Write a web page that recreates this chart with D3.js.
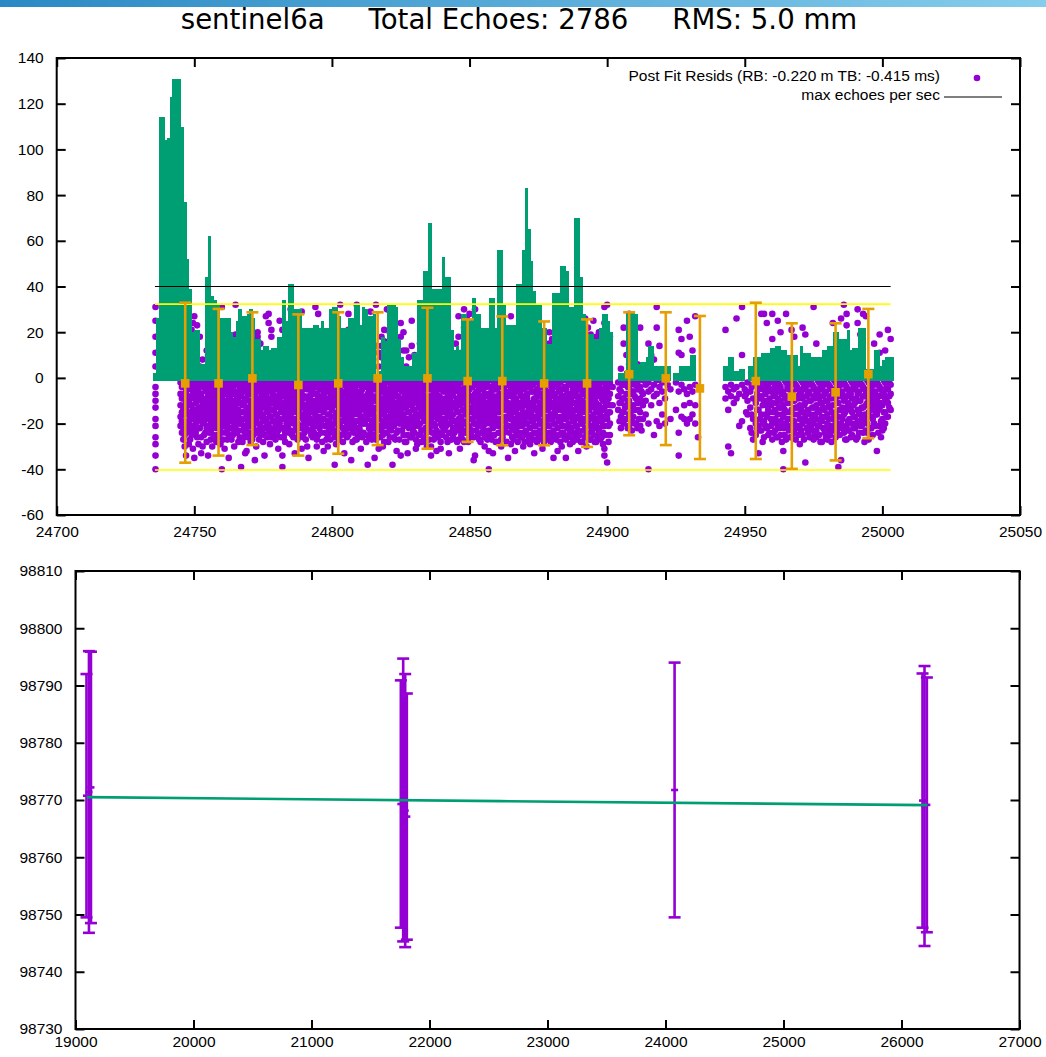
<!DOCTYPE html>
<html>
<head>
<meta charset="utf-8">
<script src="https://cdn.jsdelivr.net/npm/d3@7"></script>
<style>
  body { margin: 0; background: #fff; }
  svg text { font-family: "Liberation Sans", Arial, sans-serif; font-size: 15.5px; fill: #000; }
  svg text.title { font-family: "DejaVu Sans", sans-serif; font-size: 27.6px; white-space: pre; }
</style>
</head>
<body>
<svg id="chart" width="1046" height="1057"></svg>
<script>
// ---- text ----
const titleText = "sentinel6a     Total Echoes: 2786     RMS: 5.0 mm";
const legendResid = "Post Fit Resids (RB: -0.220 m TB: -0.415 ms)";
const legendMax = "max echoes per sec";

// ---- ticks ----
const topXTicks = [24700, 24750, 24800, 24850, 24900, 24950, 25000, 25050];
const topYTicks = [-60, -40, -20, 0, 20, 40, 60, 80, 100, 120, 140];
const botXTicks = [19000, 20000, 21000, 22000, 23000, 24000, 25000, 26000, 27000];
const botYTicks = [98730, 98740, 98750, 98760, 98770, 98780, 98790, 98800, 98810];

// ---- echoes per second (one bar per second from barStart) ----
const barStart = 24735;
const barCounts = [
  2, 26, 114, 114, 104, 105, 123, 131, 131, 131,
  110, 77, 52, 39, 20, 21, 21, 6, 6, 44,
  62, 36, 34, 32, 26, 26, 26, 26, 20, 18,
  25, 30, 27, 27, 28, 30, 26, 17, 17, 12,
  14, 14, 12, 13, 13, 18, 18, 34, 25, 41,
  41, 30, 30, 30, 22, 22, 22, 22, 23, 23,
  22, 25, 22, 22, 30, 31, 31, 27, 22, 22,
  22, 26, 26, 32, 32, 23, 31, 30, 27, 27,
  28, 1, 3, 18, 16, 32, 32, 32, 31, 17,
  9, 5, 5, 5, 11, 11, 34, 34, 47, 47,
  68, 39, 39, 39, 39, 53, 44, 44, 21, 12,
  14, 12, 28, 28, 25, 25, 35, 28, 28, 22,
  22, 22, 35, 35, 22, 56, 56, 32, 23, 23,
  23, 23, 41, 41, 56, 83, 65, 51, 38, 32,
  32, 22, 22, 15, 15, 37, 37, 37, 49, 49,
  47, 31, 31, 70, 70, 44, 28, 19, 19, 19,
  17, 17, 22, 28, 28, 25, 20, null, null, 2,
  2, 3, 28, 29, 29, 28, 6, 7, 7, 9,
  14, 14, 5, 5, 5, 5, 5, 5, null, 2,
  2, 5, 5, 5, 5, 10, 10, null, null, null,
  null, null, null, null, null, null, null, 5, 5, 9,
  9, 3, 3, 4, 4, null, 5, 5, 9, 9,
  9, 11, 11, 11, 13, 13, 14, 14, 12, 12,
  10, 10, 10, 10, 5, 14, 11, 11, 11, 9,
  9, 9, 9, 12, 12, 14, 14, 20, 20, 17,
  17, 17, 21, 12, 13, 13, 22, 22, 22, 4,
  4, 4, 12, 12, 5, 8, 9, 9, 9
];
const barBase = -1.2;

// ---- reference lines ----
const maxEchoes = 40;
const limitHi = 32.3;
const limitLo = -40.3;
const lineStart = 24735.7;
const lineEnd = 25003;

// ---- binned residual error bars ----
const ebTime = [24746.7, 24758.8, 24771.1, 24787.8, 24802.3, 24816.6, 24834.7, 24849.3, 24861.9,
                24877.1, 24892.7, 24908, 24921.3, 24933.7, 24954, 24967.1, 24983, 24994.9];
const ebMid = [-2.4, -2.4, -0.2, -3.1, -2.4, -0.2, -0.2, -1.4, -1.4, -2.4, -2.4, 1.6, -0.2, -4.6, -1.4, -8.2, -6.3, 1.6];
const ebLo = [-37.1, -34.0, -29.4, -34.0, -33.2, -29.4, -31, -28, -29.5, -29.5, -30.2, -25.1, -29.4, -35.5, -35.5, -39.8, -36.1, -26.4];
const ebHi = [32.9, 30.2, 28.7, 27.8, 28.7, 28.7, 30.7, 25.6, 26.9, 24.7, 25.6, 28.7, 28.7, 27.1, 32.9, 23.9, 23.9, 30.2];

// ---- post fit residuals: "second offset: values (mm)" ----
const residT0 = 24700;
const residCols = [
  "35.9: 31 25 18 11 5 -4 -7 -10 -13 -18 -21 -26 -29 -34 -40",
  "45: -2 -7 -12 -17 -21",
  "46: -1 -4 -9 -14 -16 -22 -27 24",
  "47: -3 -6 -11 -13 -19 -24 -34 28 22",
  "48: -2 -8 -10 -15 -20 -23 -29 25 18",
  "49: -1 -5 -12 -16 -18 -25 5 21",
  "50: -4 -7 -9 -14 -21 -35 27 8 2",
  "51: -2 -6 -10 -17 -19 -26 23 6",
  "52: -1 -3 -8 -13 -15 -22 18 5",
  "53: -3 -9 -11 -16 -20 -30 8",
  "54: -2 -5 -12 -14 -18 -24 3",
  "55: -1 -6 -8 -11 -17 -21 -34 10",
  "56: -4 -9 -13 -15 -19 -23 -27 12 28",
  "57: -2 -5 -7 -12 -18 -25 15",
  "58: -1 -8 -10 -14 -16 -22 -28 20",
  "59: -3 -6 -11 -17 -20 -26 9",
  "60: -2 -4 -9 -13 -19 -24 -40 14 31",
  "61: -1 -7 -10 -15 -18 -21 -31 22",
  "62: -3 -5 -12 -14 -20 -23 -27 6",
  "63: -2 -8 -11 -16 -22 17",
  "64: -1 -4 -7 -13 -17 -25 11",
  "65: -3 -6 -10 -12 -19 -21 32 19",
  "66: -2 -9 -14 -16 -23 -28 7",
  "67: -1 -5 -8 -11 -18 -20 -39 13",
  "68: -4 -6 -12 -15 -21 -26 24",
  "69: -2 -3 -9 -13 -17 -22 -32 9",
  "70: -1 -7 -10 -14 -19 -24 16",
  "71: -3 -5 -11 -16 -18 -27 5",
  "72: -2 -8 -12 -15 -20 -36 12",
  "73: -1 -4 -6 -13 -17 -23 20 18",
  "74: -3 -9 -11 -14 -21 -25 15",
  "75: -2 -5 -10 -16 -19 -28 8",
  "76: -1 -7 -8 -12 -18 -22 27",
  "77: -4 -6 -13 -15 -20 -24 28 24",
  "78: -2 -3 -9 -11 -17 -26 18 21",
  "79: -1 -8 -10 -14 -19 -23 11",
  "80: -3 -5 -12 -16 -21 -25 7",
  "81: -2 -7 -9 -13 -18 -20 25",
  "82: -1 -4 -11 -15 -22 -34 -39 21",
  "83: -3 -6 -8 -12 -17 -24 -28 12",
  "84: -2 -9 -10 -14 -19 -21 16",
  "85: -1 -5 -7 -13 -16 -23 30",
  "86: -4 -8 -11 -15 -20 -26 9",
  "87: -2 -3 -10 -12 -18 -22 14",
  "88: -1 -6 -9 -14 -17 -25 19",
  "89: -3 -7 -11 -13 -21 -31 29",
  "90: -2 -4 -8 -16 -19 -24 6",
  "91: -1 -5 -12 -14 -20 -30 17",
  "92: -3 -9 -10 -15 -18 -23 10",
  "93: -2 -6 -7 -13 -22 -26 13",
  "94: -1 -4 -11 -16 -17 -21 31",
  "95: -3 -8 -9 -12 -19 -25 28",
  "96: -2 -5 -10 -14 -20 -24 20",
  "97: -1 -7 -12 -15 -18 -32 8",
  "98: -4 -6 -9 -13 -21 -27 15",
  "99: -2 -3 -11 -16 -19 -23 11",
  "100: -1 -8 -10 -14 -17 -22 18",
  "101: -3 -5 -7 -12 -20 -26 -38 14",
  "102: -2 -9 -11 -15 -18 -24 7",
  "103: -1 -4 -8 -13 -16 -21 32",
  "104: -3 -6 -10 -14 -22 -28 12",
  "105: -2 -7 -12 -17 -19 -23 19",
  "106: -1 -5 -9 -11 -15 -25 28 21",
  "107: -4 -8 -13 -18 -20 -36 9",
  "108: -2 -3 -10 -16 -21 -24 15",
  "109: -1 -6 -7 -12 -14 -19 -27 32 6",
  "110: -3 -9 -11 -15 -22 -23 17",
  "111: -2 -5 -8 -13 -17 -26 10",
  "112: -1 -4 -10 -14 -20 -25 13",
  "113: -3 -7 -12 -16 -18 -38 20",
  "114: -2 -6 -9 -11 -21 -24 29",
  "115: -1 -8 -13 -15 -19 -22 8",
  "116: -4 -5 -10 -17 -20 -27 32 14",
  "117: -2 -7 -12 -14 -18 -31 5 11",
  "118: -1 -3 -9 -13 -16 -23 9 14 18",
  "119: -3 -6 -11 -15 -21 -28 21 16",
  "120: -2 -8 -10 -17 -19 -24 30 12 3",
  "121: -1 -5 -12 -14 -22 -26 20 8",
  "122: -4 -7 -9 -16 -18 -38 15 4",
  "123: -2 -6 -11 -13 -20 -27 10 2",
  "124: -1 -3 -8 -15 -17 -23 7",
  "125: -3 -9 -12 -14 -19 -34 24 18",
  "126: -2 -5 -10 -16 -21 -25 20 12",
  "127: -1 -7 -11 -13 -18 -28 12 5",
  "128: -4 -6 -9 -15 -20 -22 9",
  "129: -2 -8 -12 -17 -19 -26 25 14",
  "130: -1 -4 -10 -14 -21 -24 10",
  "131: -3 -5 -11 -16 -18 -29",
  "132: -2 -7 -9 -13 -20 -25 15",
  "133: -1 -6 -12 -15 -17 -23 8",
  "134: -3 -8 -10 -14 -22 -28 18",
  "135: -2 -4 -11 -16 -19 -21 12",
  "136: -1 -5 -9 -13 -18 -30 -34 22",
  "137: -4 -7 -12 -17 -20 -27 9",
  "138: -2 -6 -10 -15 -23 -32 14",
  "139: -1 -3 -8 -14 -16 -24 6",
  "140: -3 -9 -11 -13 -21 -25 17",
  "141: -2 -5 -12 -18 -19 -22 11",
  "142: -1 -7 -10 -15 -17 -28 20",
  "143: -4 -6 -9 -14 -20 -24 13",
  "144: -2 -8 -11 -16 -22 -26 8",
  "145: -1 -3 -12 -13 -19 -23 15",
  "146: -3 -5 -10 -15 -18 -27 27 18",
  "147: -2 -7 -9 -17 -21 -25 11",
  "148: -1 -6 -11 -14 -20 -28 30 22",
  "149: -4 -8 -12 -16 -19 -24 26",
  "150: -2 -5 -10 -13 -22 -26 28",
  "151: -1 -4 -9 -15 -18 -23 24",
  "152: -3 -7 -11 -17 -20 -34 30",
  "153: -2 -6 -12 -14 -21 -25 22",
  "154: -1 -8 -10 -16 -19 -28 16",
  "155: -3 -5 -9 -13 -18 -22 12",
  "156: -2 -4 -11 -15 -20 -24 9",
  "157: -1 -7 -12 -17 -23 -32 -40 14",
  "158: -4 -6 -10 -14 -19 -27 7",
  "159: -2 -9 -11 -16 -21 -25 19",
  "160: -1 -5 -8 -13 -18 -28 11",
  "161: -3 -7 -12 -15 -20 -24 15",
  "162: -2 -4 -10 -14 -22 -26 8",
  "163: -1 -6 -9 -17 -19 -23 13",
  "164: -3 -8 -11 -13 -21 -35 10",
  "165: -2 -5 -12 -16 -18 -29 27 16",
  "166: -1 -7 -10 -15 -20 -27 12",
  "167: -4 -6 -9 -14 -22 -25 18",
  "168: -2 -3 -11 -17 -19 -24 9",
  "169: -1 -8 -12 -13 -21 -26 14",
  "170: -3 -5 -10 -16 -18 -28 30 20",
  "171: -2 -7 -9 -15 -20 -25 24 11",
  "172: -1 -4 -11 -14 -22 -29 17",
  "173: -3 -6 -12 -17 -19 -27 8",
  "174: -2 -9 -10 -13 -21 -24 13",
  "175: -1 -5 -8 -16 -18 -26 19",
  "176: -4 -7 -11 -15 -20 -25 10",
  "177: -2 -3 -12 -14 -22 -28 15",
  "178: -1 -6 -9 -17 -19 -27 7",
  "179: -3 -8 -10 -13 -21 -24 20 15",
  "180: -2 -5 -11 -16 -18 -26 17",
  "181: -1 -7 -12 -15 -20 -25 12",
  "182: -3 -4 -9 -14 -22 -32 9",
  "183: -2 -6 -10 -17 -19 -28 14",
  "184: -1 -8 -11 -13 -21 -24 11",
  "185: -4 -5 -12 -16 -18 -27 -35 16",
  "186: -2 -7 -9 -15 -20 -25 8",
  "187: -1 -3 -10 -14 -22 -26 13",
  "188: -3 -6 -11 -17 -19 -24 10",
  "189: -2 -8 -12 -13 -21 -27 18",
  "190: -1 -5 -9 -16 -18 -25 28 12",
  "191: -3 -7 -10 -15 -20 -28 24",
  "192: -2 -4 -11 -14 -22 -26 26 20",
  "193: -1 -6 -12 -17 -19 -24 22",
  "194: -4 -8 -9 -13 -21 -27 19",
  "195: -2 -5 -10 -16 -18 -25 25",
  "196: -1 -7 -11 -15 -20 -28 18",
  "197: -3 -4 -12 -14 -22 -24 20",
  "198: -2 -6 -9 -17 -19 -26 15",
  "199: -1 -8 -10 -13 -21 -31 -34 31 24",
  "200: -3 -5 -11 -16 -18 -37 32",
  "201: -2 -7 -12 -15 -20 -25 18",
  "202: -4 -12",
  "204: -2 -8 -14",
  "205: -1 -6 -11 -17 -22 4",
  "206: -3 -9 -15 -20 22 15",
  "207: -2 -7 -12 -18 10",
  "208: -4 -10 -16 -21 28 6",
  "209: -1 -6 -13 -19 -23 15",
  "210: -3 -8 -14 -20 10",
  "211: -2 -5 -11 -22 6",
  "212: -4 -9 -15 -21 22",
  "213: -1 -7 -12 -18",
  "214: -3 -10 -16",
  "215: -2 -6 -20 -40 15",
  "216: -5 -12 10",
  "217: -3 -8 -25 8",
  "218: -1 -7 -19 31 22",
  "219: -4 -11 -21 14",
  "220: -2 -6 -16",
  "221: -9 -20",
  "222: -3",
  "223: -5 -18",
  "225: -2 -14",
  "226: -6 -24 -34 21 11",
  "227: -3 -17 17 10",
  "228: -5 -12 -18",
  "229: -7 -20 25",
  "230: -4 -11 -18 18",
  "231: -6 -16 12",
  "232: -3 -12 -20 27",
  "233: -26",
  "243: -4 -9 21",
  "244: -6 -14 -30",
  "245: -3 -8 -33",
  "246: -5 -11",
  "247: -4 -9 26",
  "248: -7 -21",
  "249: -3 -19 31 10",
  "250: -5 -8",
  "251: -2 -10 -16",
  "252: -6 -13 -22",
  "253: -3 -9 -18 -27",
  "254: -2 -11 -20 -25",
  "255: -5 -14 -21 -33",
  "256: -1 -8 -16 -23 28",
  "257: -4 -10 -19 -26 28",
  "258: -6 -12 -17 -22 24",
  "259: -2 -9 -15 -24",
  "260: -5 -11 -20 -27 28 17",
  "261: -3 -7 -14 -18 -23",
  "262: -1 -9 -16 -21 -26 25",
  "263: -4 -10 -13 -19 -25 20",
  "264: -6 -12 -17 -22 -40 -32",
  "265: -2 -8 -15 -20 -27 28",
  "266: -5 -11 -18 -23",
  "267: -3 -7 -14 -21 -26 21",
  "268: -1 -10 -16 -19 -24 18",
  "269: -4 -8 -13 -22",
  "270: -6 -12 -18 -21 -29",
  "271: -2 -9 -15 -20 -25 22",
  "272: -5 -11 -17 -37 19",
  "273: -3 -7 -14 -19 -24",
  "274: -1 -10 -16 -22 -26",
  "275: -4 -8 -13 -20 -27 31",
  "276: -6 -12 -18 -23 -26 15",
  "277: -2 -9 -15 -21 -25",
  "278: -5 -11 -17 -19 -28",
  "279: -3 -7 -14 -22 -24",
  "280: -1 -10 -16 -20 -27",
  "281: -4 -8 -13 -21 -25",
  "282: -6 -12 -18 -23 24",
  "283: -2 -9 -15 -19 -26",
  "284: -5 -11 -17 -22 -39",
  "285: -3 -7 -14 -20 -36 26",
  "286: -1 -10 -16 -24 32",
  "287: -4 -8 -13 -21 -27 28 23",
  "288: -6 -12 -18 -23",
  "289: -2 -9 -15 -20 -25",
  "290: -5 -11 -17 -22",
  "291: -3 -7 -14 -19 -26 30 24",
  "292: -1 -10 -16 -21 19",
  "293: -4 -8 -13 -20 -24 28",
  "294: -6 -12 -18 -23 27",
  "295: -2 -9 -15 -27",
  "296: -5 -11 -17 -22",
  "297: -3 -7 -14 -20 15",
  "298: -1 -10 -16 -32",
  "299: -4 -8 -13 -21 11 19",
  "300: -6 -12 -18 -23",
  "301: -2 -9 -15 -20 12",
  "302: -5 -11 -17 21",
  "303: -3 -7 -14 17"
];
// echoes falling between whole seconds
const residColsHalf = [
  "45.5: -4 -9 -15 -19 -24", "46.5: -2 -7 -12 -20 -25 -30", "47.5: -1 -5 -9 -16 -22 26",
  "48.5: -3 -12 -17 -21 -27 20", "49.5: -6 -8 -14 -23 -31 24", "50.5: -2 -11 -16 -20 -24 19",
  "51.5: -5 -9 -13 -22 -29", "52.5: -1 -7 -15 -18 -26 -33", "53.5: -4 -10 -13 -19 -25",
  "54.5: -6 -9 -16 -22 -28 12", "55.5: -3 -13 -18 -24", "56.5: -1 -6 -11 -17 -21 -30",
  "57.5: -4 -9 -14 -20 -27 19", "58.5: -3 -6 -12 -19 -25", "59.5: -1 -8 -14 -16 -22 -29",
  "60.5: -5 -11 -17 -21 -27", "61.5: -2 -4 -13 -20 -24", "62.5: -6 -9 -16 -18 -25 -35",
  "63.5: -4 -5 -14 -19 -27", "64.5: -3 -10 -15 -21 -23 -30", "65.5: -1 -8 -14 -17 -24",
  "66.5: -4 -6 -11 -20 -26", "67.5: -3 -12 -15 -23 -28", "68.5: -1 -9 -10 -18 -24 -33",
  "69.5: -5 -7 -15 -20 -26", "70.5: -3 -12 -17 -21 -28", "71.5: -1 -8 -14 -22 -25",
  "72.5: -4 -6 -10 -18 -24 -30", "73.5: -3 -9 -15 -20 -27", "74.5: -1 -7 -12 -17 -23",
  "75.5: -4 -8 -13 -22 -25 -34", "76.5: -3 -10 -15 -20 -26", "77.5: -1 -9 -11 -17 -22 -29",
  "78.5: -5 -7 -14 -19 -24", "79.5: -3 -12 -16 -21 -27", "80.5: -1 -8 -10 -18 -23 -31",
  "81.5: -4 -5 -11 -15 -22 -26", "82.5: -2 -8 -13 -18 -26", "83.5: -5 -10 -15 -20 -22",
  "84.5: -4 -7 -12 -17 -24 -29", "85.5: -3 -9 -10 -19 -25", "86.5: -1 -6 -13 -18 -23 -33",
  "87.5: -5 -8 -15 -20 -27", "88.5: -3 -11 -12 -21 -22", "89.5: -1 -5 -9 -16 -18 -26",
  "90.5: -3 -12 -14 -22 -27", "91.5: -4 -8 -10 -17 -23 -35", "92.5: -1 -6 -12 -20 -25",
  "93.5: -4 -10 -15 -19 -24", "94.5: -3 -7 -13 -20 -27 -30", "95.5: -1 -5 -14 -17 -22",
  "96.5: -4 -8 -12 -18 -28", "97.5: -3 -9 -10 -21 -24", "98.5: -1 -11 -16 -19 -25 -30",
  "99.5: -5 -7 -13 -21 -27", "100.5: -3 -5 -12 -20 -24", "101.5: -1 -9 -16 -18 -23 -29",
  "102.5: -5 -7 -13 -21 -27", "103.5: -3 -10 -11 -19 -25", "104.5: -1 -8 -16 -18 -24 -33",
  "105.5: -4 -10 -14 -21 -26", "106.5: -3 -7 -13 -17 -22", "107.5: -1 -6 -11 -15 -23 -28",
  "108.5: -5 -8 -13 -19 -27", "109.5: -3 -10 -16 -22 -25", "110.5: -1 -6 -13 -18 -20 -31",
  "111.5: -4 -10 -11 -20 -24", "112.5: -3 -8 -16 -18 -28", "113.5: -1 -5 -9 -14 -22 -26",
  "114.5: -4 -13 -16 -19 -27", "115.5: -3 -5 -10 -17 -25 -35", "116.5: -1 -8 -13 -22 -23",
  "117.5: -5 -10 -16 -21 -26", "118.5: -4 -6 -11 -19 -25 -30", "119.5: -1 -8 -13 -17 -24",
  "120.5: -5 -6 -14 -21 -28", "121.5: -3 -10 -16 -19 -23", "122.5: -1 -6 -12 -14 -21 -26",
  "123.5: -4 -8 -15 -18 -24 -32", "124.5: -5 -10 -12 -20 -27", "125.5: -1 -6 -16 -17 -23",
  "126.5: -4 -8 -13 -19 -28", "127.5: -3 -9 -15 -21 -25 -33", "128.5: -1 -11 -12 -18 -26",
  "129.5: -5 -6 -14 -22 -24", "130.5: -3 -8 -16 -19 -27 -31", "131.5: -1 -6 -9 -13 -21 -25",
  "132.5: -4 -10 -15 -23 -28", "133.5: -3 -8 -10 -19 -26", "134.5: -1 -5 -12 -17 -24 -30",
  "135.5: -5 -8 -14 -22 -27", "136.5: -3 -11 -15 -20 -24", "137.5: -1 -9 -14 -21 -25",
  "138.5: -4 -8 -12 -18 -26", "139.5: -5 -10 -11 -20 -28 -31", "140.5: -1 -6 -15 -18 -23",
  "141.5: -4 -9 -14 -21 -26", "142.5: -3 -5 -12 -20 -24 -33", "143.5: -1 -11 -16 -18 -27",
  "144.5: -5 -6 -13 -19 -24", "145.5: -4 -9 -15 -21 -28", "146.5: -1 -7 -12 -20 -23 -31",
  "147.5: -5 -11 -14 -19 -27", "148.5: -3 -9 -16 -23 -24", "149.5: -1 -6 -10 -14 -21 -28",
  "150.5: -4 -8 -15 -18 -24", "151.5: -3 -11 -13 -20 -26 -36", "152.5: -1 -6 -9 -15 -23",
  "153.5: -4 -8 -17 -19 -27", "154.5: -5 -12 -14 -21 -24", "155.5: -1 -7 -16 -20 -26 -30",
  "156.5: -3 -8 -13 -18 -27", "157.5: -4 -10 -15 -20 -25", "158.5: -1 -8 -12 -17 -22 -33",
  "159.5: -3 -5 -14 -19 -28", "160.5: -4 -10 -15 -21 -24", "161.5: -1 -9 -10 -18 -27 -30",
  "162.5: -5 -7 -12 -19 -24", "163.5: -3 -11 -14 -21 -28", "164.5: -1 -6 -16 -17 -24",
  "165.5: -4 -8 -14 -22 -26", "166.5: -3 -5 -12 -18 -23 -32", "167.5: -1 -11 -16 -20 -28",
  "168.5: -5 -7 -13 -21 -26", "169.5: -4 -10 -15 -19 -24 -30", "170.5: -1 -8 -12 -20 -23",
  "171.5: -4 -11 -13 -17 -27", "172.5: -3 -6 -15 -19 -25", "173.5: -1 -9 -10 -21 -24 -33",
  "174.5: -5 -7 -14 -17 -28", "175.5: -3 -11 -13 -20 -23", "176.5: -1 -9 -16 -19 -27 -31",
  "177.5: -5 -7 -10 -17 -24", "178.5: -3 -11 -14 -21 -25", "179.5: -1 -6 -16 -18 -28",
  "180.5: -4 -8 -13 -20 -23 -35", "181.5: -3 -9 -10 -17 -27", "182.5: -1 -6 -12 -19 -25",
  "183.5: -5 -8 -14 -21 -24 -30", "184.5: -4 -10 -16 -18 -26", "185.5: -1 -7 -9 -14 -22",
  "186.5: -3 -11 -12 -17 -23 -29", "187.5: -5 -8 -15 -19 -28", "188.5: -1 -7 -14 -21 -26",
  "189.5: -4 -5 -10 -17 -23 -32", "190.5: -3 -12 -14 -20 -28", "191.5: -1 -6 -13 -18 -23",
  "192.5: -5 -8 -15 -19 -25 -30", "193.5: -3 -10 -14 -21 -27", "194.5: -1 -6 -11 -17 -23",
  "195.5: -4 -9 -13 -20 -22 -28", "196.5: -3 -6 -12 -18 -26", "197.5: -1 -8 -16 -19 -27",
  "198.5: -5 -10 -14 -21 -24 -29", "199.5: -3 -6 -12 -18 -25", "200.5: -1 -9 -15 -21 -28",
  "204.5: -5 -11 -19", "205.5: -3 -9 -15", "206.5: -1 -13 -18", "207.5: -4 -10 -22",
  "208.5: -2 -7 -15", "209.5: -6 -12 -17", "210.5: -1 -9 -20", "211.5: -4 -14 -18",
  "212.5: -6 -11 -23", "250.5: -7 -15", "252.5: -4 -16 -24", "254.5: -7 -14 -22",
  "255.5: -3 -9 -18 -23", "256.5: -5 -12 -20 -28", "257.5: -2 -7 -16 -21", "258.5: -4 -10 -14 -25",
  "259.5: -6 -12 -18 -21", "260.5: -2 -8 -15 -24", "261.5: -5 -11 -19 -26", "262.5: -3 -6 -13 -22",
  "263.5: -7 -16 -20 -28", "264.5: -1 -9 -14 -25", "265.5: -4 -11 -18 -22", "266.5: -2 -8 -15 -26",
  "267.5: -6 -10 -19 -23", "268.5: -3 -13 -21 -27", "269.5: -5 -9 -16 -25", "270.5: -1 -7 -14 -23",
  "271.5: -4 -12 -18 -27", "272.5: -2 -8 -15 -22", "273.5: -6 -10 -20 -26", "274.5: -3 -13 -18 -23",
  "275.5: -5 -9 -16 -24", "276.5: -1 -7 -14 -21", "277.5: -4 -11 -19 -28", "278.5: -2 -8 -13 -22",
  "279.5: -6 -10 -17 -26", "280.5: -3 -12 -18 -23", "281.5: -5 -9 -15 -28", "282.5: -1 -7 -16 -21",
  "283.5: -4 -11 -20 -24", "284.5: -2 -8 -14 -25", "285.5: -6 -13 -18 -22", "286.5: -3 -9 -15 -27",
  "287.5: -5 -11 -19 -23", "288.5: -1 -7 -14 -26", "289.5: -4 -12 -17 -22", "290.5: -2 -9 -20 -27",
  "291.5: -6 -10 -15 -24", "292.5: -3 -13 -18 -21", "293.5: -5 -8 -16 -28", "294.5: -1 -11 -20 -24",
  "295.5: -4 -7 -13 -22", "296.5: -2 -9 -18 -25", "297.5: -6 -12 -16 -21", "298.5: -3 -8 -14 -24",
  "299.5: -5 -11 -19 -26", "300.5: -1 -7 -15 -22", "301.5: -4 -10 -17", "302.5: -2 -8 -13"
];

// ---- normal points (range, mm) and model ----
const npTime = [19093, 19114, 19131, 21757, 21777, 21794, 21808, 24077, 26178, 26195, 26215];
const npRange = [98770.75, 98771.4, 98772.2, 98769.3, 98770.0, 98768.15, 98767.1, 98771.75, 98769.9, 98768.95, 98769.15];
const npErr = [21.25, 24.6, 23.7, 21.6, 24.7, 23.85, 21.5, 22.25, 22.2, 24.45, 22.25];
const modelTime = [19095, 22600, 26220];
const modelRange = [98770.5, 98769.8, 98769.1];

// ---- colours ----
const purple = "#9400d3", green = "#009e73", orange = "#e69f00", yellow = "#ffff00";

const svg = d3.select("#chart");

// header strip
const grad = svg.append("defs").append("linearGradient").attr("id", "hdr");
grad.append("stop").attr("offset", "0%").attr("stop-color", "#2a89c4");
grad.append("stop").attr("offset", "100%").attr("stop-color", "#86cdec");
svg.append("rect").attr("x", 0).attr("y", 0).attr("width", 1046).attr("height", 7).attr("fill", "url(#hdr)");

svg.append("text").attr("class", "title")
  .attr("x", 519).attr("y", 29).attr("text-anchor", "middle")
  .text(titleText);

function frameAxes(g, x, y, xTicks, yTicks, xPad) {
  const [x0, x1] = x.range(), [y0, y1] = y.range();
  const fmt = d => String(d);
  const left = g.append("g").attr("transform", `translate(${x0},0)`)
    .call(d3.axisLeft(y).tickValues(yTicks).tickSize(-9).tickPadding(13).tickFormat(fmt));
  const right = g.append("g").attr("transform", `translate(${x1},0)`)
    .call(d3.axisRight(y).tickValues(yTicks).tickSize(-9).tickFormat(""));
  const bottom = g.append("g").attr("transform", `translate(0,${y0})`)
    .call(d3.axisBottom(x).tickValues(xTicks).tickSize(-9).tickPadding(xPad).tickFormat(fmt));
  const top = g.append("g").attr("transform", `translate(0,${y1})`)
    .call(d3.axisTop(x).tickValues(xTicks).tickSize(-9).tickFormat(""));
  [left, right, bottom, top].forEach(a => {
    a.select(".domain").remove();
    a.selectAll("line").attr("stroke", "#000").attr("stroke-width", 2);
  });
  g.append("rect").attr("x", x0).attr("y", y1)
    .attr("width", x1 - x0).attr("height", y0 - y1)
    .attr("fill", "none").attr("stroke", "#000").attr("stroke-width", 2);
}

// ================= top panel =================
const xTop = d3.scaleLinear().domain([24700, 25050]).range([56.7, 1020]);
const yTop = d3.scaleLinear().domain([-60, 140]).range([515, 58]);
const gTop = svg.append("g");

const resid = [];
residCols.concat(residColsHalf).forEach(s => {
  const [t, vals] = s.split(":");
  vals.trim().split(/\s+/).forEach(v => resid.push({ t: residT0 + +t, v: +v }));
});

gTop.append("g").selectAll("circle").data(resid).join("circle")
  .attr("cx", d => xTop(d.t)).attr("cy", d => yTop(d.v))
  .attr("r", 3.3).attr("fill", purple);

const bars = barCounts.map((c, i) => ({ t: barStart + i, c })).filter(d => d.c != null);
gTop.append("g").attr("shape-rendering", "crispEdges")
  .selectAll("rect").data(bars).join("rect")
  .attr("x", d => xTop(d.t))
  .attr("width", d => xTop(d.t + 1) - xTop(d.t) + 0.5)
  .attr("y", d => yTop(d.c))
  .attr("height", d => yTop(barBase) - yTop(d.c))
  .attr("fill", green);

[[limitHi, yellow, 1.6], [limitLo, yellow, 1.6], [maxEchoes, "#000", 1.1]].forEach(([v, col, w]) => {
  gTop.append("line")
    .attr("x1", xTop(lineStart)).attr("x2", xTop(lineEnd))
    .attr("y1", yTop(v)).attr("y2", yTop(v))
    .attr("stroke", col).attr("stroke-width", w);
});

const eb = gTop.append("g").selectAll("g").data(ebTime.map((t, i) => ({ t, m: ebMid[i], lo: ebLo[i], hi: ebHi[i] }))).join("g")
  .attr("stroke", orange).attr("stroke-width", 2.6);
eb.append("line").attr("x1", d => xTop(d.t)).attr("x2", d => xTop(d.t))
  .attr("y1", d => yTop(d.hi)).attr("y2", d => yTop(d.lo));
eb.append("line").attr("x1", d => xTop(d.t) - 6).attr("x2", d => xTop(d.t) + 6)
  .attr("y1", d => yTop(d.hi)).attr("y2", d => yTop(d.hi));
eb.append("line").attr("x1", d => xTop(d.t) - 6).attr("x2", d => xTop(d.t) + 6)
  .attr("y1", d => yTop(d.lo)).attr("y2", d => yTop(d.lo));
eb.append("rect").attr("stroke", "none").attr("fill", orange)
  .attr("x", d => xTop(d.t) - 4.3).attr("y", d => yTop(d.m) - 4.3)
  .attr("width", 8.6).attr("height", 8.6);

frameAxes(gTop, xTop, yTop, topXTicks, topYTicks, 11);

// legend
gTop.append("text").attr("x", 940).attr("y", 81).attr("text-anchor", "end").text(legendResid);
gTop.append("circle").attr("cx", 977).attr("cy", 78).attr("r", 3.3).attr("fill", purple);
gTop.append("text").attr("x", 940).attr("y", 100).attr("text-anchor", "end").text(legendMax);
gTop.append("line").attr("x1", 944).attr("x2", 1002).attr("y1", 97).attr("y2", 97)
  .attr("stroke", "#000").attr("stroke-width", 1.1);

// ================= bottom panel =================
const xBot = d3.scaleLinear().domain([19000, 27000]).range([75.5, 1019.5]);
const yBot = d3.scaleLinear().domain([98730, 98810]).range([1029, 571]);
const gBot = svg.append("g");

const nps = npTime.map((t, i) => ({ t, r: npRange[i], e: npErr[i] }));
const np = gBot.append("g").selectAll("g").data(nps).join("g")
  .attr("stroke", purple).attr("stroke-width", 2.6);
np.append("line").attr("x1", d => xBot(d.t)).attr("x2", d => xBot(d.t))
  .attr("y1", d => yBot(d.r + d.e)).attr("y2", d => yBot(d.r - d.e));
np.append("line").attr("x1", d => xBot(d.t) - 6).attr("x2", d => xBot(d.t) + 6)
  .attr("y1", d => yBot(d.r + d.e)).attr("y2", d => yBot(d.r + d.e));
np.append("line").attr("x1", d => xBot(d.t) - 6).attr("x2", d => xBot(d.t) + 6)
  .attr("y1", d => yBot(d.r - d.e)).attr("y2", d => yBot(d.r - d.e));
np.append("line").attr("x1", d => xBot(d.t) - 3.5).attr("x2", d => xBot(d.t) + 3.5)
  .attr("y1", d => yBot(d.r)).attr("y2", d => yBot(d.r));

gBot.append("path")
  .datum(modelTime.map((t, i) => [t, modelRange[i]]))
  .attr("d", d3.line().x(d => xBot(d[0])).y(d => yBot(d[1])))
  .attr("fill", "none").attr("stroke", green).attr("stroke-width", 2.6);

frameAxes(gBot, xBot, yBot, botXTicks, botYTicks, 7);
</script>
</body>
</html>
